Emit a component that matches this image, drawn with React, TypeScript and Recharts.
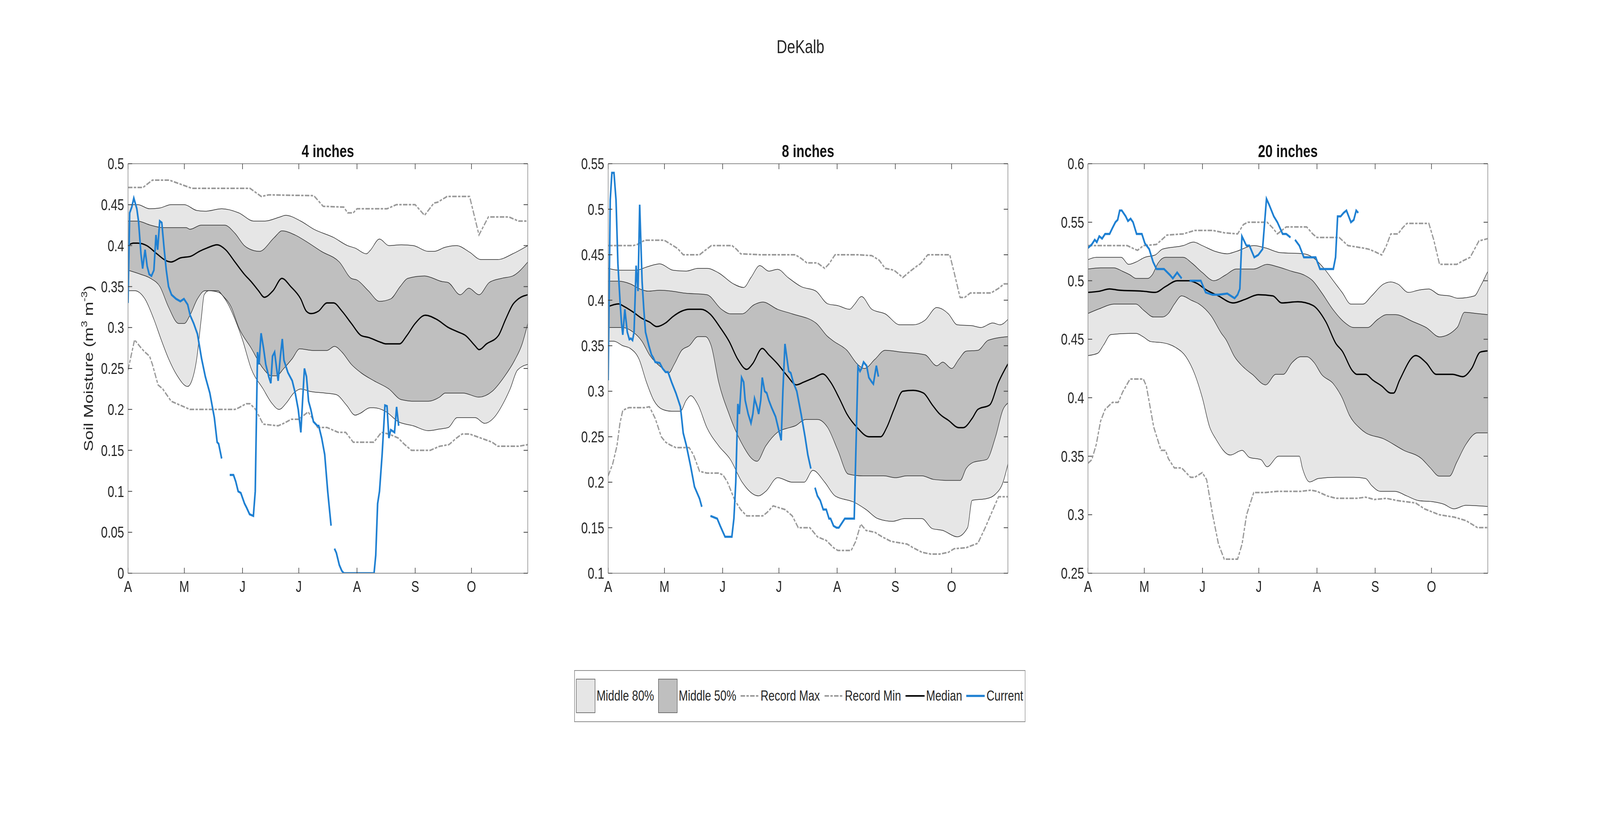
import React from 'react';
import { ComposedChart, Area, Line, XAxis, YAxis } from 'recharts';

type P = [number, number | null][];

const FONT = "'Liberation Sans', Arial, Helvetica, sans-serif";

const monthTicks = [0, 30, 61, 91, 122, 153, 183];
const monthLabels = ['A', 'M', 'J', 'J', 'A', 'S', 'O'];

const yTicks4 = [0, 0.05, 0.1, 0.15, 0.2, 0.25, 0.3, 0.35, 0.4, 0.45, 0.5];
const yTicks8 = [0.1, 0.15, 0.2, 0.25, 0.3, 0.35, 0.4, 0.45, 0.5, 0.55];
const yTicks20 = [0.25, 0.3, 0.35, 0.4, 0.45, 0.5, 0.55, 0.6];

// ---- 4 inches ----
const rmax4: P = [[0,0.471],[8,0.471],[13,0.48],[22,0.48],[28,0.475],[34,0.47],[65,0.47],[71,0.46],[75,0.462],[99,0.461],[104,0.448],[115,0.447],[117,0.44],[120,0.44],[122,0.445],[138,0.445],[143,0.45],[153,0.45],[158,0.437],[163,0.452],[165,0.453],[170,0.46],[182,0.46],[187,0.413],[192,0.435],[203,0.435],[208,0.43],[213,0.43]];
const rmin4: P = [[0,0.248],[3.5,0.285],[7,0.275],[9,0.27],[11.5,0.265],[13,0.255],[16,0.23],[18.5,0.225],[23,0.21],[28,0.205],[33,0.2],[57,0.2],[59,0.202],[63,0.207],[65,0.207],[68,0.2],[72,0.182],[80,0.18],[83,0.183],[87,0.188],[91,0.188],[96,0.197],[98,0.19],[101,0.178],[106,0.178],[112,0.172],[116,0.172],[120,0.16],[131,0.16],[135,0.172],[139,0.17],[144,0.165],[147,0.158],[151,0.15],[161,0.15],[166,0.155],[171,0.157],[175,0.165],[178,0.17],[182,0.17],[188,0.165],[194,0.16],[197,0.155],[208,0.155],[213,0.157]];
const p90_4: P = [[0,0.45],[5.2,0.45],[11.5,0.445],[17,0.446],[23,0.45],[30,0.45],[36.5,0.443],[41,0.442],[50,0.445],[59,0.44],[67,0.43],[73,0.43],[81,0.435],[84,0.437],[92,0.43],[99,0.42],[109.5,0.41],[117,0.4],[121,0.397],[127,0.39],[129,0.394],[134,0.408],[139,0.4],[145.6,0.401],[152,0.4],[160,0.393],[163,0.393],[169,0.398],[175,0.4],[182,0.392],[188,0.383],[197,0.383],[205,0.39],[213,0.4]];
const p75_4: P = [[0,0.43],[5,0.43],[12,0.425],[18.5,0.422],[31,0.422],[33,0.42],[39,0.425],[51.5,0.425],[57,0.415],[62,0.4],[67,0.394],[70,0.393],[78,0.41],[82,0.418],[89,0.413],[95,0.405],[103,0.393],[112.6,0.38],[119,0.36],[122,0.358],[128,0.345],[134,0.332],[140,0.335],[145,0.35],[149,0.36],[158,0.363],[167.5,0.356],[170.5,0.355],[177,0.34],[181.6,0.348],[187,0.34],[192.5,0.355],[199,0.36],[205,0.363],[213,0.38]];
const p25_4: P = [[0,0.37],[6.7,0.365],[12,0.36],[17,0.35],[21.6,0.325],[27,0.305],[30,0.305],[33,0.315],[37,0.335],[41,0.345],[48,0.345],[50,0.34],[55,0.325],[59,0.3],[65.6,0.275],[72,0.25],[76.5,0.241],[79,0.241],[83,0.25],[87.5,0.262],[91.5,0.274],[98.5,0.272],[106,0.272],[110,0.277],[114,0.27],[119,0.255],[124,0.245],[131,0.235],[139,0.225],[145.6,0.212],[153,0.21],[160,0.21],[166,0.215],[169,0.22],[178.5,0.22],[187,0.215],[194,0.222],[200.5,0.24],[206,0.26],[210,0.28],[213,0.305]];
const p10_4: P = [[0,0.345],[3.6,0.345],[9,0.335],[13.8,0.31],[17.7,0.285],[21.6,0.262],[26,0.242],[31.8,0.228],[34,0.235],[36.5,0.26],[39,0.31],[40.6,0.34],[43,0.345],[48.3,0.343],[53,0.33],[57,0.31],[61,0.285],[65.6,0.25],[72,0.225],[76.5,0.208],[80.5,0.2],[84.4,0.208],[88.3,0.22],[92,0.225],[97,0.222],[105,0.22],[111,0.218],[116.5,0.205],[121,0.193],[123.5,0.195],[129,0.202],[131,0.202],[137.6,0.197],[144,0.185],[152,0.18],[160,0.174],[166,0.176],[170.7,0.178],[175.4,0.19],[185,0.19],[190,0.183],[195,0.19],[200.5,0.21],[203.6,0.225],[207.5,0.248],[213,0.255]];
const med4: P = [[0,0.4],[2.8,0.403],[5.2,0.403],[10,0.4],[15.4,0.39],[20,0.382],[23,0.38],[27.9,0.385],[33.4,0.387],[38,0.393],[42,0.397],[47.5,0.401],[52,0.395],[57,0.38],[62,0.365],[66,0.355],[69.5,0.345],[72.6,0.337],[77.3,0.345],[82,0.36],[86.7,0.35],[92,0.335],[95,0.32],[97.6,0.317],[101.5,0.32],[106,0.33],[109.5,0.33],[114,0.32],[119,0.305],[124.4,0.29],[128,0.288],[134.6,0.282],[137.6,0.28],[144.6,0.28],[148.5,0.29],[153,0.305],[158.4,0.315],[164.4,0.31],[170.7,0.3],[175.4,0.295],[180,0.29],[184.8,0.278],[187.1,0.273],[191,0.28],[197.3,0.29],[201.2,0.31],[205,0.328],[208,0.335],[213,0.34]];
const cur4: P = [[0,0.33],[0.9,0.44],[2,0.447],[3.1,0.458],[4.7,0.445],[5.6,0.43],[6.9,0.39],[7.8,0.372],[9.1,0.395],[10.2,0.375],[11.3,0.365],[12.5,0.363],[13.8,0.37],[14.9,0.413],[15.8,0.395],[16.9,0.43],[18,0.428],[19.3,0.395],[20.4,0.37],[21.6,0.35],[23.2,0.34],[25.6,0.335],[27.9,0.332],[29.8,0.335],[31.8,0.328],[33.1,0.315],[35,0.305],[37,0.292],[39.2,0.262],[41.2,0.24],[43.6,0.22],[46,0.19],[47.5,0.16],[48.3,0.158],[49.9,0.14],[52,null],[54.2,0.12],[56.2,0.12],[57.4,0.112],[58.7,0.1],[60.1,0.098],[62.1,0.085],[63.2,0.08],[64.8,0.072],[66.8,0.07],[67.8,0.1],[69,0.27],[69.8,0.255],[70.9,0.293],[72.2,0.275],[73.4,0.255],[75,0.24],[76.1,0.232],[77,0.265],[78.1,0.27],[80,0.235],[81.2,0.265],[82.2,0.286],[83.1,0.26],[85.2,0.245],[87.5,0.235],[89.1,0.22],[90.7,0.2],[92.1,0.172],[93,0.21],[94,0.25],[95.1,0.24],[96.2,0.21],[97.4,0.2],[98.8,0.185],[100.9,0.18],[101.6,0.18],[103.2,0.165],[104.8,0.145],[106.4,0.1],[108.2,0.058],[109,null],[110,0.03],[111,0.025],[112.6,0.01],[113.9,0.003],[115,0],[131.1,0],[132,0.022],[133,0.085],[134,0.1],[135.4,0.145],[136.9,0.205],[138,0.204],[139,0.165],[140,0.175],[142,0.172],[143.1,0.203],[144.2,0.18]];

// ---- 8 inches ----
const rmax8: P = [[0,0.46],[13.3,0.46],[15.2,0.461],[19.6,0.466],[29.8,0.466],[33,0.462],[36.9,0.457],[40,0.45],[48.7,0.45],[51.8,0.455],[55,0.46],[66,0.46],[68.4,0.456],[70.6,0.451],[80.8,0.45],[99.7,0.45],[102.8,0.446],[105.9,0.441],[111.5,0.441],[115.4,0.435],[117.7,0.44],[120.9,0.45],[132.7,0.45],[140.5,0.449],[144.4,0.444],[147.6,0.435],[152.3,0.433],[157,0.425],[161,0.432],[164.8,0.438],[166.4,0.44],[170.3,0.45],[182,0.45],[184.4,0.43],[187.5,0.403],[189.9,0.403],[193,0.408],[204,0.408],[208,0.413],[211,0.418],[213,0.418]];
const rmin8: P = [[0,0.207],[2.4,0.22],[4.7,0.24],[6.3,0.265],[7.8,0.279],[11,0.282],[19.6,0.282],[22,0.283],[25.1,0.27],[28.3,0.25],[30.6,0.244],[33,0.241],[36.1,0.238],[43.2,0.238],[45.5,0.23],[48.7,0.212],[52.6,0.21],[58.9,0.21],[61.2,0.208],[63.6,0.2],[67.5,0.18],[70.6,0.17],[73.8,0.163],[82.4,0.163],[84.8,0.167],[87.9,0.174],[94.2,0.17],[98.1,0.163],[101.3,0.15],[107.5,0.15],[111.5,0.14],[116.2,0.136],[120.1,0.128],[122.4,0.125],[129.5,0.125],[131.9,0.135],[134.6,0.154],[137.4,0.147],[142.1,0.145],[146,0.14],[150.7,0.135],[159.3,0.132],[162.5,0.128],[167.2,0.123],[171.9,0.121],[176.6,0.121],[181.3,0.123],[184.4,0.127],[190.7,0.128],[197,0.133],[200.9,0.15],[204,0.165],[208,0.184],[213,0.184]];
const p90_8: P = [[0,0.435],[5.5,0.433],[14.9,0.433],[21.2,0.437],[27.5,0.44],[34.5,0.433],[41.6,0.432],[47.9,0.435],[52.6,0.435],[58.9,0.43],[66.7,0.418],[72.2,0.414],[76.1,0.425],[80.8,0.438],[85.6,0.432],[90.3,0.434],[95.8,0.425],[102.8,0.415],[110.7,0.41],[117,0.396],[122.4,0.394],[128.7,0.39],[131.1,0.395],[135,0.404],[140.5,0.39],[147.6,0.385],[155.4,0.373],[162.5,0.373],[168.8,0.378],[175.1,0.392],[181.3,0.385],[186,0.373],[193.9,0.372],[198.6,0.37],[204.9,0.375],[208.8,0.373],[213,0.379]];
const p75_8: P = [[0,0.421],[5.5,0.421],[11.8,0.418],[17.3,0.412],[21.2,0.41],[27.5,0.411],[33.8,0.41],[40,0.408],[52.6,0.406],[60.4,0.39],[65.1,0.385],[71.4,0.385],[77.7,0.395],[82.4,0.398],[90.3,0.39],[98.1,0.385],[110.7,0.375],[117,0.36],[120.1,0.355],[127.2,0.345],[132.7,0.33],[136.6,0.325],[142.1,0.335],[147.6,0.345],[156.3,0.343],[168.8,0.34],[175.1,0.328],[178.3,0.332],[183,0.325],[186.8,0.335],[190.7,0.344],[197,0.345],[202.5,0.356],[213,0.36]];
const p25_8: P = [[0,0.37],[7.8,0.37],[13.3,0.365],[18,0.355],[22,0.34],[29,0.325],[32.2,0.32],[35.3,0.33],[39.2,0.345],[43.2,0.35],[47.9,0.36],[51.8,0.36],[54.9,0.35],[58.9,0.31],[64.4,0.275],[70.6,0.245],[79.3,0.223],[84,0.24],[90.3,0.255],[96.6,0.26],[99.7,0.262],[105.2,0.269],[111.5,0.269],[117,0.26],[122.4,0.235],[127.9,0.209],[135.8,0.207],[146.8,0.207],[153.1,0.205],[159.3,0.207],[167.2,0.207],[173.5,0.203],[181.3,0.202],[187.6,0.202],[190.7,0.215],[194.7,0.222],[201.7,0.225],[206.4,0.25],[210.4,0.28],[213,0.287]];
const p10_8: P = [[0,0.355],[3.1,0.355],[7.8,0.35],[11.8,0.347],[16.5,0.335],[20.4,0.31],[24.3,0.29],[29,0.28],[33.8,0.278],[38.5,0.278],[41.6,0.29],[44,0.295],[47.9,0.285],[52.6,0.26],[58.9,0.24],[65.1,0.225],[71.4,0.2],[80.1,0.185],[84,0.19],[90.3,0.205],[98.1,0.2],[104.4,0.2],[109.1,0.213],[115.4,0.2],[120.9,0.185],[131.1,0.178],[137.4,0.17],[143.7,0.16],[151.5,0.157],[157.8,0.16],[167.2,0.16],[172.7,0.149],[178.3,0.147],[186,0.14],[191.5,0.15],[193.9,0.18],[201.7,0.182],[206.4,0.187],[210.4,0.2],[213,0.22]];
const med8: P = [[0,0.393],[5.5,0.396],[8.6,0.393],[13.3,0.387],[18,0.38],[22,0.376],[25.9,0.371],[30.6,0.375],[34.5,0.382],[39.2,0.388],[43.2,0.39],[49.5,0.39],[54.2,0.385],[59.7,0.37],[64.4,0.355],[69.1,0.335],[73.8,0.324],[76.9,0.33],[82.1,0.347],[85.6,0.34],[90.3,0.33],[95,0.318],[100.3,0.307],[104.2,0.31],[109.9,0.315],[114.3,0.319],[118.5,0.31],[123.2,0.292],[127.2,0.275],[132.7,0.26],[138.9,0.25],[145.2,0.25],[148.4,0.26],[152.3,0.28],[157,0.3],[162.5,0.301],[168,0.298],[172.7,0.285],[176.6,0.275],[181.3,0.268],[186.8,0.26],[189.2,0.26],[193.9,0.27],[197,0.28],[203.3,0.285],[208,0.31],[213,0.33]];
const cur8: P = [[0,0.312],[1.1,0.51],[2,0.54],[3.1,0.54],[4.2,0.51],[5.2,0.44],[6.3,0.4],[7.1,0.375],[7.8,0.362],[8.9,0.39],[10.2,0.365],[11.3,0.357],[12.1,0.358],[13,0.356],[13.8,0.365],[14.9,0.438],[15.9,0.41],[16.8,0.505],[18.1,0.42],[19,0.39],[19.9,0.365],[21.7,0.35],[23.1,0.34],[24,0.337],[25.1,0.332],[27.5,0.331],[29,0.325],[30.6,0.321],[31.9,0.321],[33.8,0.31],[36.1,0.298],[38.5,0.283],[40,0.254],[41.6,0.241],[44,0.217],[46,0.195],[48.7,0.182],[49.9,0.173],[51,null],[54.5,0.163],[55.7,0.162],[58.1,0.16],[59.7,0.152],[61.2,0.145],[62.3,0.14],[65.9,0.14],[67,0.16],[68,0.2],[69.1,0.286],[69.9,0.275],[71.1,0.315],[72.2,0.31],[73,0.29],[74.6,0.275],[76.1,0.265],[77.1,0.275],[78,0.292],[79.3,0.283],[80.2,0.275],[81.3,0.29],[82.1,0.315],[83.4,0.3],[84.5,0.298],[85.6,0.29],[87.1,0.282],[89.2,0.272],[90.6,0.26],[92.2,0.246],[93.1,0.3],[94.2,0.352],[95,0.34],[96.2,0.322],[97.3,0.32],[98.6,0.31],[100.5,0.3],[102.8,0.275],[104.9,0.25],[106.4,0.23],[108,0.215],[109,null],[110.2,0.194],[111.5,0.185],[113,0.18],[114.6,0.17],[116.2,0.17],[117.7,0.16],[118.5,0.16],[120.1,0.152],[121.7,0.15],[122.9,0.15],[124.5,0.155],[126.1,0.16],[131.1,0.16],[133.1,0.327],[134.2,0.322],[135,0.325],[136.1,0.332],[137.7,0.328],[138.9,0.315],[140.5,0.31],[141.3,0.308],[142.9,0.328],[144,0.316]];

// ---- 20 inches ----
const rmax20: P = [[0,0.53],[20.9,0.53],[24.8,0.527],[26.4,0.526],[29.5,0.53],[36.5,0.531],[42,0.539],[50.7,0.54],[56.9,0.543],[66.4,0.543],[72.6,0.541],[79.7,0.54],[82.8,0.548],[85.2,0.55],[95.4,0.55],[98.5,0.545],[100.9,0.54],[105.6,0.546],[116.5,0.546],[119.7,0.54],[122,0.537],[132.2,0.537],[133.8,0.537],[138.5,0.53],[146.4,0.528],[149.5,0.527],[152.6,0.525],[156.5,0.522],[159,0.53],[161.3,0.54],[165.2,0.54],[167.5,0.545],[169.9,0.549],[181.6,0.549],[184.2,0.535],[187.3,0.514],[196.5,0.514],[199.7,0.517],[203.6,0.52],[208.3,0.534],[213,0.536]];
const rmin20: P = [[0,0.344],[2,0.347],[4.4,0.36],[6.7,0.38],[9.1,0.39],[13,0.396],[16.1,0.396],[18.5,0.405],[22.4,0.416],[29.5,0.416],[31.1,0.41],[35,0.375],[38.9,0.355],[41.3,0.355],[42.8,0.348],[46,0.34],[49.9,0.34],[54.6,0.332],[56.9,0.332],[60.9,0.336],[63.2,0.33],[66.4,0.3],[69.5,0.275],[72.6,0.262],[79.7,0.262],[82.1,0.275],[84.5,0.3],[88.3,0.319],[94.6,0.319],[100.9,0.32],[113.4,0.32],[118.9,0.321],[122,0.32],[127.5,0.316],[132.2,0.314],[143.2,0.314],[147.9,0.315],[152.6,0.313],[158.9,0.314],[165.2,0.312],[174.6,0.31],[179.3,0.305],[187.1,0.3],[195,0.298],[201.3,0.295],[207.5,0.289],[213,0.289]];
const p90_20: P = [[0,0.518],[4.4,0.52],[17.7,0.52],[21.6,0.514],[25.6,0.516],[30.3,0.52],[35.8,0.522],[39.7,0.527],[50.7,0.53],[56.2,0.533],[60.9,0.53],[67.9,0.525],[74.2,0.523],[78.9,0.525],[88.3,0.53],[94.6,0.528],[102.4,0.524],[115,0.523],[119.7,0.52],[126,0.51],[130.7,0.5],[135.4,0.49],[140.1,0.48],[146.4,0.48],[151.1,0.487],[157.3,0.497],[161.3,0.499],[165.2,0.497],[170.7,0.49],[176.2,0.492],[181.6,0.493],[187.1,0.488],[192.6,0.487],[197.3,0.485],[205.9,0.487],[209,0.495],[213,0.508]];
const p75_20: P = [[0,0.51],[6.7,0.511],[13.8,0.511],[18.5,0.508],[22.4,0.505],[25.6,0.502],[31.8,0.502],[34.2,0.505],[37.3,0.515],[41.3,0.52],[50.7,0.52],[55.4,0.515],[60.9,0.507],[67.1,0.5],[73.4,0.505],[78.9,0.51],[88.3,0.51],[95.4,0.514],[100.9,0.512],[108.7,0.508],[115,0.505],[119.7,0.5],[124.4,0.49],[130.7,0.475],[136.2,0.465],[141.8,0.46],[148.9,0.46],[154.4,0.467],[159,0.471],[163.8,0.471],[173.2,0.465],[180.2,0.46],[187.3,0.452],[196.7,0.46],[200.6,0.473],[206.9,0.472],[213,0.471]];
const p25_20: P = [[0,0.472],[6,0.476],[13.8,0.48],[25.6,0.48],[29.5,0.475],[35,0.469],[39.7,0.469],[42.8,0.472],[46,0.48],[49.9,0.487],[55.4,0.483],[59.3,0.48],[65.6,0.47],[71.1,0.455],[73.4,0.45],[78.1,0.435],[83.6,0.425],[87.5,0.42],[94.6,0.411],[100.1,0.42],[104,0.42],[108.7,0.43],[113.4,0.435],[116.5,0.435],[120.5,0.43],[124.4,0.42],[130.7,0.412],[135.4,0.4],[139.3,0.385],[144.8,0.374],[147.9,0.37],[157.3,0.365],[168.3,0.355],[177.7,0.348],[182.4,0.34],[187.1,0.333],[192.6,0.333],[196.5,0.345],[201.3,0.36],[207.5,0.37],[213,0.37]];
const p10_20: P = [[0,0.436],[5.2,0.438],[8.3,0.445],[12.2,0.454],[22.4,0.455],[25.6,0.455],[29.5,0.452],[33.4,0.448],[39.7,0.447],[46.7,0.443],[52.2,0.435],[56.9,0.42],[60.9,0.4],[64.8,0.375],[68,0.365],[75.8,0.351],[82.1,0.355],[86,0.349],[92.2,0.347],[95.4,0.341],[101.6,0.35],[112.6,0.35],[114.2,0.34],[118.1,0.328],[122.8,0.331],[132.2,0.332],[141.6,0.332],[147.9,0.331],[151.1,0.325],[155.8,0.32],[163.6,0.32],[169.9,0.316],[176.2,0.312],[184,0.311],[189.5,0.309],[195,0.305],[201.3,0.308],[213,0.307]];
const med20: P = [[0,0.49],[6,0.491],[11.5,0.493],[16.2,0.492],[29.5,0.491],[35.8,0.49],[41.3,0.495],[47.5,0.5],[53.8,0.5],[57.7,0.498],[63.2,0.492],[69.5,0.487],[77.3,0.481],[83.6,0.484],[90.7,0.488],[98.5,0.487],[103.2,0.481],[111.8,0.482],[119.7,0.479],[126.7,0.465],[132.2,0.446],[135.4,0.44],[140.9,0.423],[143.2,0.42],[147.9,0.42],[151.8,0.415],[156.5,0.41],[161.3,0.404],[162.8,0.404],[166,0.415],[174.6,0.436],[180.1,0.43],[185.6,0.42],[194.2,0.42],[199.7,0.418],[204.4,0.425],[209,0.439],[213,0.44]];
const cur20: P = [[0,0.528],[2,0.531],[3.6,0.535],[4.7,0.533],[6,0.538],[7.5,0.536],[9.1,0.54],[11.5,0.54],[13,0.545],[14.6,0.55],[15.8,0.552],[16.9,0.56],[18,0.56],[20.1,0.555],[21.3,0.551],[22.7,0.553],[24,0.55],[25.9,0.54],[28.7,0.54],[30.3,0.532],[32.6,0.527],[34.7,0.516],[36.5,0.51],[40.5,0.51],[43.6,0.505],[45.2,0.502],[47.5,0.507],[49.9,0.502],[51.5,null],[54.1,0.5],[60.1,0.5],[62.7,0.49],[66.4,0.488],[69.5,0.488],[74.2,0.489],[78.1,0.485],[79.7,0.488],[80.9,0.493],[82,0.538],[84.4,0.53],[86,0.53],[88.6,0.52],[90.7,0.522],[93,0.527],[95.1,0.57],[96.5,0.565],[99,0.555],[100.9,0.55],[103.7,0.54],[105.6,0.54],[107.9,0.537],[108.8,null],[110.3,0.535],[112.6,0.53],[115,0.52],[121.3,0.52],[123.6,0.51],[126,0.51],[130.7,0.51],[131.9,0.52],[133,0.555],[134.6,0.555],[136.2,0.558],[137.7,0.56],[140.1,0.55],[141.6,0.552],[142.9,0.56],[144,0.558]];

const PAGE_W = 5375;
const PAGE_H = 2096;
const PLOT_TOP = 419;
const PLOT_W = 1343;
const PLOT_H = 1048;

const panels = [
  { title: '4 inches', left: 430, domain: [0, 0.5], ticks: yTicks4, p90: p90_4, p75: p75_4, p25: p25_4, p10: p10_4, rmax: rmax4, rmin: rmin4, med: med4, cur: cur4 },
  { title: '8 inches', left: 2043, domain: [0.1, 0.55], ticks: yTicks8, p90: p90_8, p75: p75_8, p25: p25_8, p10: p10_8, rmax: rmax8, rmin: rmin8, med: med8, cur: cur8 },
  { title: '20 inches', left: 3655, domain: [0.25, 0.6], ticks: yTicks20, p90: p90_20, p75: p75_20, p25: p25_20, p10: p10_20, rmax: rmax20, rmin: rmin20, med: med20, cur: cur20 },
];

const toPts = (a: P) => a.map(([d, v]) => ({ d, v }));
const fmtY = (v: number) => String(parseFloat(v.toFixed(2)));
const fmtX = (v: number) => monthLabels[monthTicks.indexOf(v)] ?? '';

const AXIS = '#8c8c8c';
const TICK = '#404040';
const TEXT = '#262626';
const BLUE = '#1f80d2';
const GRAY = '#999999';
const DASH = '15 4.5 8 4.5';

function Panel({ cfg }: { cfg: typeof panels[number] }) {
  const L = 200, T = 100, R = 40, B = 120;
  const band = (key: string, data: P, fill: string) => (
    <Area key={key} xAxisId="b" yAxisId="l" data={toPts(data)} dataKey="v" type="monotone"
      fill={fill} fillOpacity={1} stroke="#262626" strokeWidth={1.5} baseValue="dataMin"
      dot={false} activeDot={false} isAnimationActive={false} />
  );
  return (
    <div style={{ position: 'absolute', left: cfg.left - L, top: PLOT_TOP - T }}>
      <ComposedChart width={PLOT_W + L + R} height={PLOT_H + T + B}
        margin={{ top: T - 10, right: R - 20, bottom: B - 80, left: L - 120 }}>
        {band('p90', cfg.p90, '#e6e6e6')}
        {band('p75', cfg.p75, '#bfbfbf')}
        {band('p25', cfg.p25, '#e6e6e6')}
        {band('p10', cfg.p10, '#ffffff')}
        <Line xAxisId="b" yAxisId="l" data={toPts(cfg.rmax)} dataKey="v" type="linear" stroke={GRAY}
          strokeWidth={4} strokeDasharray={DASH} dot={false} activeDot={false} isAnimationActive={false} />
        <Line xAxisId="b" yAxisId="l" data={toPts(cfg.rmin)} dataKey="v" type="linear" stroke={GRAY}
          strokeWidth={4} strokeDasharray={DASH} dot={false} activeDot={false} isAnimationActive={false} />
        <Line xAxisId="b" yAxisId="l" data={toPts(cfg.med)} dataKey="v" type="monotone" stroke="#000000"
          strokeWidth={3.5} dot={false} activeDot={false} isAnimationActive={false} />
        <Line xAxisId="b" yAxisId="l" data={toPts(cfg.cur)} dataKey="v" type="linear" stroke={BLUE}
          strokeWidth={5.5} dot={false} activeDot={false} isAnimationActive={false} connectNulls={false} />
        <XAxis xAxisId="b" dataKey="d" type="number" domain={[0, 213]} ticks={monthTicks} interval={0}
          allowDataOverflow orientation="bottom" height={80} tickSize={-14} tickMargin={34}
          tickFormatter={fmtX} stroke={AXIS} strokeWidth={2} tickLine={{ stroke: TICK, strokeWidth: 2 }}
          tick={{ fill: TEXT, fontSize: 40, fontFamily: FONT }} />
        <XAxis xAxisId="t" dataKey="d" type="number" domain={[0, 213]} ticks={monthTicks} interval={0}
          allowDataOverflow orientation="top" height={10} tickSize={-14} tickMargin={0}
          tickFormatter={() => ''} stroke={AXIS} strokeWidth={2} tickLine={{ stroke: TICK, strokeWidth: 2 }} />
        <YAxis yAxisId="l" type="number" domain={cfg.domain} ticks={cfg.ticks} interval={0} allowDataOverflow
          orientation="left" width={120} tickSize={-14} tickMargin={27} tickFormatter={fmtY}
          stroke={AXIS} strokeWidth={2} tickLine={{ stroke: TICK, strokeWidth: 2 }}
          tick={{ fill: TEXT, fontSize: 40, fontFamily: FONT }} />
        <YAxis yAxisId="r" type="number" domain={cfg.domain} ticks={cfg.ticks} interval={0} allowDataOverflow
          orientation="right" width={20} tickSize={-14} tickMargin={0} tickFormatter={() => ''}
          stroke={AXIS} strokeWidth={2} tickLine={{ stroke: TICK, strokeWidth: 2 }} />
      </ComposedChart>
    </div>
  );
}

function Overlay() {
  const ly = 1781;
  return (
    <svg width={PAGE_W} height={PAGE_H} style={{ position: 'absolute', left: 0, top: 0, pointerEvents: 'none' }}
      fontFamily={FONT}>
      <text x={2689} y={136} textAnchor="middle" fontSize={49} fill={TEXT}>DeKalb</text>
      {panels.map((p) => (
        <text key={p.title} x={p.left + PLOT_W / 2} y={402} textAnchor="middle" fontSize={44}
          fontWeight="bold" fill="#111111">{p.title}</text>
      ))}
      <text transform={`translate(297, ${PLOT_TOP + PLOT_H / 2}) rotate(-90)`} textAnchor="middle"
        dominantBaseline="central" fontSize={44} fill={TEXT}>
        Soil Moisture (m<tspan dy={-15} fontSize={30}>3</tspan><tspan dy={15}> m</tspan>
        <tspan dy={-15} fontSize={30}>-3</tspan><tspan dy={15}>)</tspan>
      </text>
      <rect x={1930} y={1716} width={1514} height={131} fill="#ffffff" stroke={AXIS} strokeWidth={2} />
      <rect x={1936} y={1738} width={63} height={86} fill="#e6e6e6" stroke="#4d4d4d" strokeWidth={1.5} />
      <text x={2004} y={1793} fontSize={37} fill={TEXT}>Middle 80%</text>
      <rect x={2212} y={1738} width={63} height={86} fill="#bfbfbf" stroke="#4d4d4d" strokeWidth={1.5} />
      <text x={2280} y={1793} fontSize={37} fill={TEXT}>Middle 50%</text>
      <line x1={2488} x2={2550} y1={ly} y2={ly} stroke={GRAY} strokeWidth={4} strokeDasharray={DASH} />
      <text x={2555} y={1793} fontSize={37} fill={TEXT}>Record Max</text>
      <line x1={2770} x2={2832} y1={ly} y2={ly} stroke={GRAY} strokeWidth={4} strokeDasharray={DASH} />
      <text x={2838} y={1793} fontSize={37} fill={TEXT}>Record Min</text>
      <line x1={3042} x2={3106} y1={ly} y2={ly} stroke="#000000" strokeWidth={4} />
      <text x={3111} y={1793} fontSize={37} fill={TEXT}>Median</text>
      <line x1={3246} x2={3308} y1={ly} y2={ly} stroke={BLUE} strokeWidth={5.5} />
      <text x={3314} y={1793} fontSize={37} fill={TEXT}>Current</text>
    </svg>
  );
}

export default function App() {
  // fit the 5375x2096 figure into the window actually available, so nothing is cut off
  const vw = typeof window !== 'undefined' && window.innerWidth ? window.innerWidth : PAGE_W;
  const vh = typeof window !== 'undefined' && window.innerHeight ? window.innerHeight : PAGE_H;
  const sx = Math.min(1, vw / PAGE_W);
  const sy = Math.min(1, vh / PAGE_H);
  return (
    <div style={{ position: 'absolute', left: 0, top: 0, width: PAGE_W * sx, height: PAGE_H * sy,
      overflow: 'hidden', background: '#ffffff' }}>
      <div style={{ position: 'absolute', left: 0, top: 0, width: PAGE_W, height: PAGE_H,
        transform: `scale(${sx}, ${sy})`, transformOrigin: '0 0' }}>
        {panels.map((p) => <Panel key={p.title} cfg={p} />)}
        <Overlay />
      </div>
    </div>
  );
}
